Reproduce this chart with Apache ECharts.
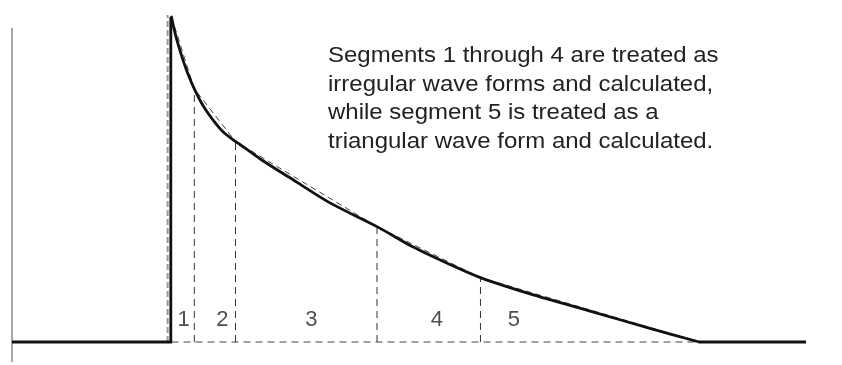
<!DOCTYPE html>
<html>
<head>
<meta charset="utf-8">
<style>
  html, body { margin: 0; padding: 0; background: #ffffff; }
  #chart { width: 842px; height: 365px; }
</style>
<script src="https://cdn.jsdelivr.net/npm/echarts@6/dist/echarts.min.js"></script>
</head>
<body>
<div id="chart"></div>
<script>
// Waveform (time units 0..100, amplitude units 0..100)
const preT = [0, 20.0, 20.0];
const preV = [0, 0, 100];
const curveT = [20.09, 20.28, 20.53, 20.94, 21.57, 22.2, 22.96, 24.09, 25.35, 26.61, 28.15, 29.97, 31.65, 35.86, 40.05, 45.97, 50.54, 54.75, 59.0, 65.24, 72.8, 80.35, 86.56];
const curveV = [100, 97.7, 95.1, 91.4, 86.5, 82.2, 77.9, 72.6, 68.2, 64.6, 61.7, 58.6, 55.7, 49.2, 42.8, 35.5, 29.2, 24.3, 19.8, 14.8, 9.5, 4.2, 0];
const tailT = [86.56, 100];
const tailV = [0, 0];
// Segment boundaries (chord vertices)
const boundaryT = [20.09, 22.96, 28.15, 45.97, 59.0, 86.56];
const boundaryV = [100, 77.9, 61.7, 35.5, 19.8, 0];
// Reference dashed vertical at the rise
const riseRefT = 19.6;
const riseRefV = [0, 100.6];
// Left axis line
const axisT = 0;
const axisV = [-6.15, 96.6];
// Segment labels
const segmentLabels = ['1', '2', '3', '4', '5'];
const labelT = [21.6, 26.5, 37.7, 53.5, 63.2];
const labelV = [6.9, 6.9, 6.9, 6.9, 6.9];
const noteLines = [
  'Segments 1 through 4 are treated as',
  'irregular wave forms and calculated,',
  'while segment 5 is treated as a',
  'triangular wave form and calculated.'
];

const zip = (a, b) => a.map((v, i) => [v, b[i]]);

const series = [];
// gray left axis
series.push({
  type: 'line', data: [[axisT, axisV[0]], [axisT, axisV[1]]], symbol: 'none', clip: false,
  lineStyle: { color: '#8a8a8a', width: 1.5 }, silent: true, z: 1
});
// dashed baseline under segments
series.push({
  type: 'line', data: [[boundaryT[0], 0], [boundaryT[boundaryT.length - 1], 0]], symbol: 'none', clip: false,
  lineStyle: { color: '#444', width: 1, type: [7, 5] }, z: 2
});
// dashed gray reference at rise
series.push({
  type: 'line', data: [[riseRefT, riseRefV[0]], [riseRefT, riseRefV[1]]], symbol: 'none', clip: false,
  lineStyle: { color: '#9a9a9a', width: 2, type: [6, 3] }, z: 2
});
// boundary dashed verticals
for (let i = 1; i < boundaryT.length - 1; i++) {
  series.push({
    type: 'line', data: [[boundaryT[i], 0], [boundaryT[i], boundaryV[i]]], symbol: 'none', clip: false,
    lineStyle: { color: '#333', width: 1, type: [7, 5] }, z: 2
  });
}
// chord dashed lines
series.push({
  type: 'line', data: zip(boundaryT, boundaryV), symbol: 'none', clip: false,
  lineStyle: { color: '#444', width: 1, type: [6, 4] }, z: 3
});
// solid waveform
series.push({
  type: 'line', data: zip(preT, preV), symbol: 'none', clip: false,
  lineStyle: { color: '#111', width: 2.8, join: 'miter', cap: 'butt' }, z: 5
});
series.push({
  type: 'line', data: zip(curveT, curveV), symbol: 'none', clip: false, smooth: 0.3,
  lineStyle: { color: '#111', width: 2.8, cap: 'round' }, z: 5
});
series.push({
  type: 'line', data: zip(tailT, tailV), symbol: 'none', clip: false,
  lineStyle: { color: '#111', width: 2.8, cap: 'butt' }, z: 5
});
// labels
series.push({
  type: 'scatter', symbolSize: 1, itemStyle: { color: 'transparent' },
  data: segmentLabels.map((s, i) => ({ name: s, value: [labelT[i], labelV[i]] })),
  label: { show: true, position: 'inside', formatter: '{b}', color: '#222', fontSize: 22, fontFamily: 'Liberation Sans, Arial, sans-serif' },
  z: 6
});

const chart = echarts.init(document.getElementById('chart'), null, { renderer: 'canvas' });
chart.setOption({
  animation: false,
  backgroundColor: '#ffffff',
  grid: { left: 12, right: 36, top: 17, bottom: 23 },
  xAxis: { type: 'value', min: 0, max: 100, show: false },
  yAxis: { type: 'value', min: 0, max: 100, show: false },
  graphic: [{
    type: 'text',
    x: 328, y: 42,
    scaleX: 1.09,
    style: {
      text: noteLines.join('\n'),
      x: 0, y: 0,
      font: '22px "Liberation Sans", Arial, sans-serif',
      lineHeight: 28.5,
      fill: '#222',
      textAlign: 'left',
      textVerticalAlign: 'top'
    }
  }],
  series: series
});
</script>
</body>
</html>
